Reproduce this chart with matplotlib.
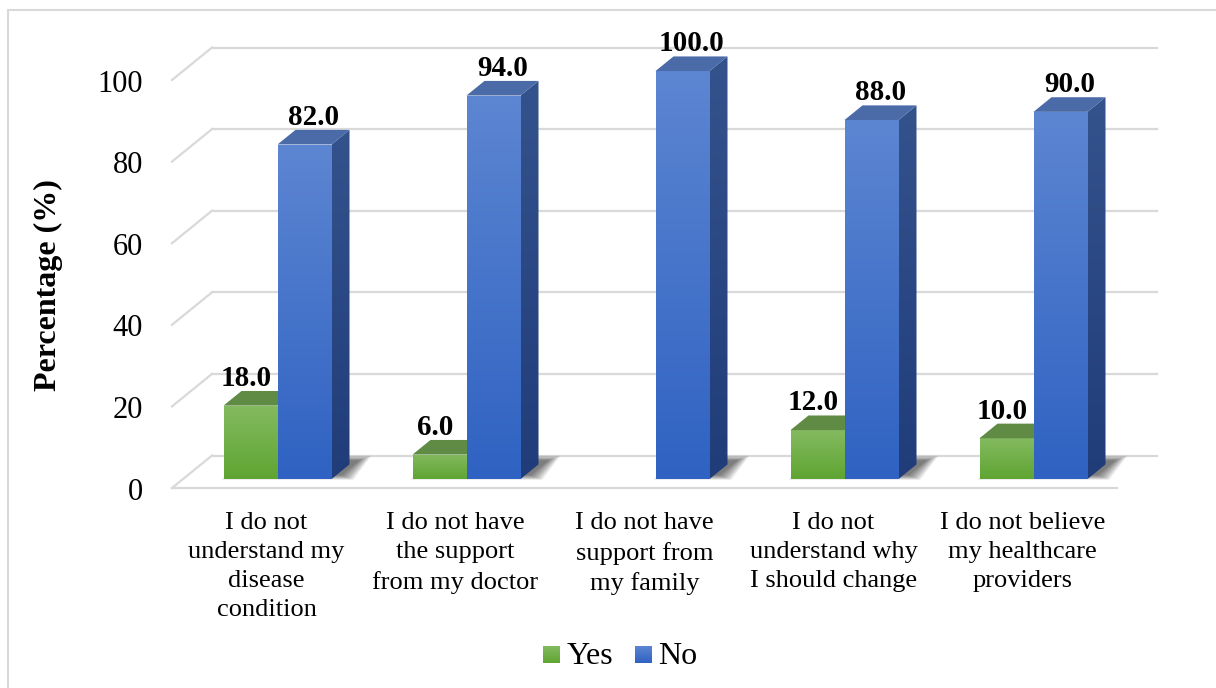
import numpy as np
import matplotlib
matplotlib.use("Agg")
import matplotlib.pyplot as plt
from matplotlib.colors import to_rgb
from matplotlib.patches import Polygon, Rectangle

categories = [
    "I do not\nunderstand my\ndisease\ncondition",
    "I do not have\nthe support\nfrom my doctor",
    "I do not have\nsupport from\nmy family",
    "I do not\nunderstand why\nI should change",
    "I do not believe\nmy healthcare\nproviders",
]
yes_values = [18.0, 6.0, 0.0, 12.0, 10.0]
no_values = [82.0, 94.0, 100.0, 88.0, 90.0]
y_ticks = [0, 20, 40, 60, 80, 100]

W, H = 1216, 688
FONT = "Liberation Serif"

# pixel layout of the front floor edge and the 3D depth vector
X0_PX, Y0_PX = 172, 488
PX_CAT, PX_PCT = 189, 4.08
DEPTH_PX = (40, 32.5)
BAR_DEPTH = 0.45          # share of floor depth taken by the bars
BAR_W = 54 / PX_CAT

DX = DEPTH_PX[0] / PX_CAT
DY = DEPTH_PX[1] / PX_PCT
F0 = (1 - BAR_DEPTH) / 2  # bars sit centred in the floor depth
FDX, FDY = F0 * DX, F0 * DY
BDX, BDY = BAR_DEPTH * DX, BAR_DEPTH * DY

GRID = "#d9d9d9"
GREEN = {"top_grad": ("#84ba60", "#5fa532"), "lid": "#5f8b45", "side": ("#4f7a36", "#3e6a26")}
BLUE = {"top_grad": ("#5d86d2", "#2f62c2"), "lid": "#4a6aa8", "side": ("#34528c", "#203d7a")}


def px_x(px):
    return (px - X0_PX) / PX_CAT


def px_y(py):
    return (Y0_PX - py) / PX_PCT


def gradient_fill(ax, verts, c_top, c_bot, z):
    poly = Polygon(verts, closed=True, facecolor="none", edgecolor="none", zorder=z)
    ax.add_patch(poly)
    xs, ys = zip(*verts)
    t = np.linspace(0, 1, 128)[:, None]
    top, bot = np.array(to_rgb(c_top)), np.array(to_rgb(c_bot))
    arr = (bot * (1 - t) + top * t)[:, None, :]
    im = ax.imshow(arr, extent=(min(xs), max(xs), min(ys), max(ys)), origin="lower",
                   aspect="auto", interpolation="bilinear", zorder=z)
    im.set_clip_path(poly)


def draw_bar(ax, left, value, style, z):
    x0, x1 = left + FDX, left + BAR_W + FDX
    y0, y1 = FDY, FDY + value
    if value <= 0:
        return x0, x1, y1
    gradient_fill(ax, [(x0, y0), (x1, y0), (x1, y1), (x0, y1)], *style["top_grad"], z)
    gradient_fill(ax, [(x1, y0), (x1 + BDX, y0 + BDY), (x1 + BDX, y1 + BDY), (x1, y1)],
                  *style["side"], z + 0.1)
    ax.add_patch(Polygon([(x0, y1), (x1, y1), (x1 + BDX, y1 + BDY), (x0 + BDX, y1 + BDY)],
                         closed=True, facecolor=style["lid"], edgecolor="none", zorder=z + 0.2))
    return x0, x1, y1


def draw_shadow(ax, left, right, z):
    # soft shadow cast on the floor behind and to the right of a bar group
    for k in range(12, -1, -1):
        kx, ky = k / PX_CAT, 0.4 * k / PX_PCT
        sx, sy = 10 / PX_CAT, 4 / PX_PCT
        xl, xr = left + FDX + sx - kx, right + FDX + sx + kx
        yf, yb = FDY + sy - ky, FDY + BDY + sy + ky
        ax.add_patch(Polygon([(xl, yf), (xr, yf), (xr + BDX, yb), (xl + BDX, yb)], closed=True,
                             facecolor="black", edgecolor="none", alpha=0.05, zorder=z))


fig = plt.figure(figsize=(W / 100, H / 100), dpi=100)
ax = fig.add_axes([0, 0, 1, 1])
ax.axis("off")

n = len(categories)

# back wall gridlines and the left wall diagonals
for v in y_ticks:
    ax.plot([DX, n + DX], [v + DY, v + DY], color=GRID, lw=1.6, zorder=1)
    ax.plot([0, DX], [v, v + DY], color=GRID, lw=1.6, zorder=1)
ax.plot([0, n], [0, 0], color=GRID, lw=1.6, zorder=1)

for i, (yv, nv) in enumerate(zip(yes_values, no_values)):
    c = i + 0.5
    z = 3 + i
    draw_shadow(ax, c - BAR_W if yv > 0 else c, c + BAR_W, 2)
    gx0, gx1, gtop = draw_bar(ax, c - BAR_W, yv, GREEN, z)
    bx0, bx1, btop = draw_bar(ax, c, nv, BLUE, z + 0.5)
    if yv > 0:
        ax.text((gx0 + gx1) / 2 - 4 / PX_CAT, gtop + BDY + 5 / PX_PCT, f"{yv:.1f}",
                ha="center", va="baseline", fontsize=21, fontweight="bold",
                family=FONT, zorder=20)
    ax.text((bx0 + bx1 + BDX) / 2, btop + BDY + 5 / PX_PCT, f"{nv:.1f}",
            ha="center", va="baseline", fontsize=21, fontweight="bold",
            family=FONT, zorder=20)
    ax.text(c, px_y(512), categories[i], ha="center", va="top", fontsize=19,
            family=FONT, linespacing=1.42, zorder=20)

for v in y_ticks:
    ax.text(px_x(143), v - 1.0, str(v), ha="right", va="center", fontsize=22, family=FONT)

ax.text(px_x(48), px_y(285), "Percentage (%)", rotation=90, ha="center", va="center",
        fontsize=23, fontweight="bold", family=FONT)

# legend
for sq_x, txt_x, label, style in [(543, 567, "Yes", GREEN), (635, 658, "No", BLUE)]:
    gradient_fill(ax, [(px_x(sq_x), px_y(663)), (px_x(sq_x + 17), px_y(663)),
                       (px_x(sq_x + 17), px_y(646)), (px_x(sq_x), px_y(646))],
                  *style["top_grad"], 5)
    ax.text(px_x(txt_x), px_y(656), label, ha="left", va="center", fontsize=23, family=FONT)

# chart frame
ax.add_patch(Rectangle((px_x(8), px_y(700)), px_x(1230) - px_x(8), px_y(10) - px_y(700),
                       facecolor="none", edgecolor=GRID, lw=1.5, zorder=0.5))

ax.set_xlim(px_x(0), px_x(W))
ax.set_ylim(px_y(H), px_y(0))
fig.savefig("out.png", dpi=100)
